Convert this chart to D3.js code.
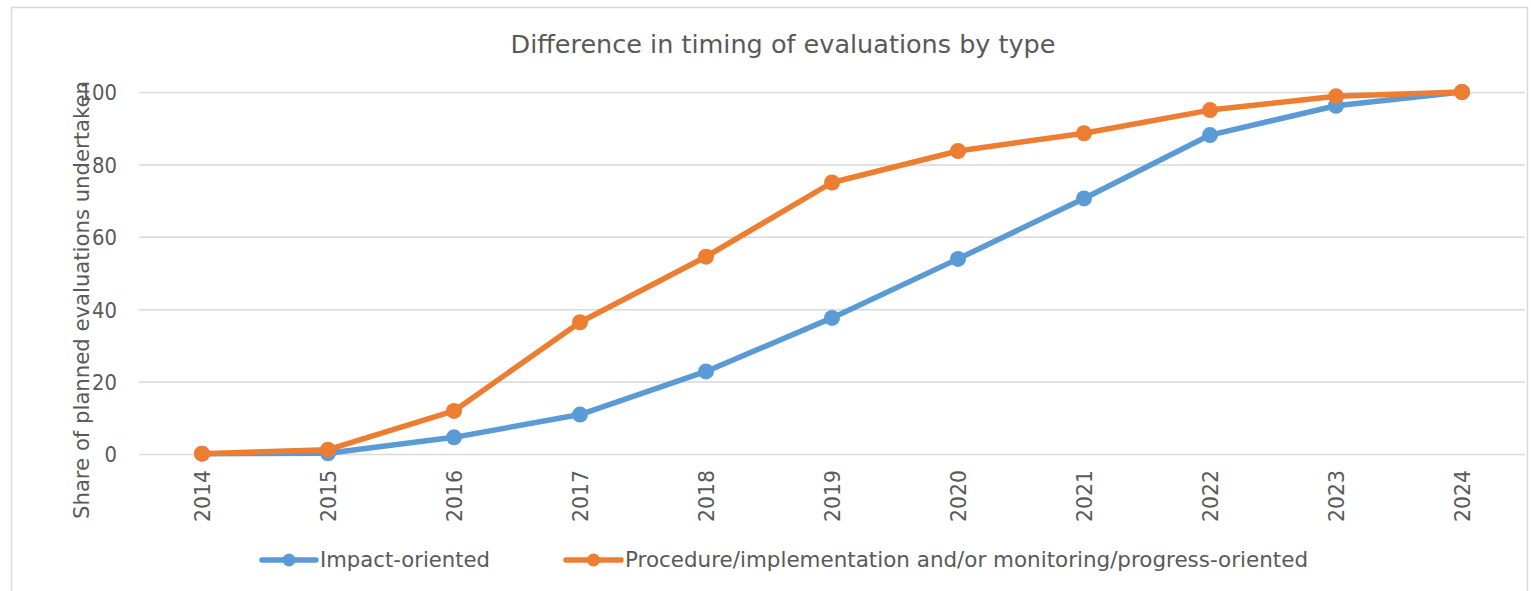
<!DOCTYPE html>
<html>
<head>
<meta charset="utf-8">
<script src="https://cdn.jsdelivr.net/npm/d3@7"></script>
<style>
  html, body { margin: 0; padding: 0; background: #fff; }
  svg { display: block; }
  text { font-family: "DejaVu Sans", Verdana, sans-serif; fill: #595959; }
</style>
</head>
<body>
<svg id="chart" width="1531" height="591"></svg>
<script>
const years = ["2014","2015","2016","2017","2018","2019","2020","2021","2022","2023","2024"];
const impactOriented = [0.1, 0.2, 4.6, 10.9, 22.8, 37.6, 53.9, 70.6, 88.1, 96.2, 100];
const procedureOriented = [0.1, 1.2, 11.9, 36.4, 54.5, 75.0, 83.7, 88.6, 95.0, 98.8, 100];
const yTicks = [0, 20, 40, 60, 80, 100];
const seriesNames = ["Impact-oriented", "Procedure/implementation and/or monitoring/progress-oriented"];
const seriesColors = ["#5b9bd5", "#ed7d31"];
const titleText = "Difference in timing of evaluations by type";
const yTitle = "Share of planned evaluations undertaken";

const svg = d3.select("#chart");

// outer chart border
svg.append("rect").attr("x", 11.5).attr("y", 7.5).attr("width", 1516).attr("height", 600)
  .attr("fill", "#fff").attr("stroke", "#d9d9d9").attr("stroke-width", 1.5);

const plot = {left: 139, right: 1525, top: 92, bottom: 454};

const x = d3.scalePoint().domain(years).range([plot.left + 63, plot.right - 63]);
const y = d3.scaleLinear().domain([0, 100]).range([plot.bottom, plot.top]);

// gridlines + y tick labels
const yAxis = d3.axisLeft(y).tickValues(yTicks).tickSize(-(plot.right - plot.left)).tickPadding(22);
const gY = svg.append("g").attr("transform", `translate(${plot.left},0)`).call(yAxis);
gY.select(".domain").remove();
gY.selectAll(".tick line").attr("stroke", "#d9d9d9").attr("stroke-width", 1.5);
gY.selectAll(".tick text").attr("font-size", 22).attr("fill", "#595959")
  .style("font-family", "'DejaVu Sans', Verdana, sans-serif")
  .attr("dy", "0.36em")
  .each(function(d){ d3.select(this).attr("textLength", String(d).length * 12.5).attr("lengthAdjust", "spacingAndGlyphs"); });

// x axis
const xAxis = d3.axisBottom(x).tickSize(0).tickPadding(0);
const gX = svg.append("g").attr("transform", `translate(0,${plot.bottom})`).call(xAxis);
gX.select(".domain").remove();
gX.selectAll(".tick text")
  .attr("font-size", 22).attr("fill", "#595959")
  .style("font-family", "'DejaVu Sans', Verdana, sans-serif")
  .attr("text-anchor", "end")
  .attr("transform", "rotate(-90)")
  .attr("x", -16).attr("y", 0).attr("dy", "0.36em")
  .attr("textLength", 52).attr("lengthAdjust", "spacingAndGlyphs");

// title
svg.append("text").attr("x", 783).attr("y", 52.5).attr("text-anchor", "middle")
  .attr("font-size", 24).attr("textLength", 545).attr("lengthAdjust", "spacingAndGlyphs")
  .text(titleText);

// y axis title
svg.append("text").attr("transform", "translate(89,300) rotate(-90)").attr("text-anchor", "middle")
  .attr("font-size", 21).attr("textLength", 438).attr("lengthAdjust", "spacingAndGlyphs")
  .text(yTitle);

// lines and markers
const seriesData = [impactOriented, procedureOriented];
const line = d3.line().x((d, i) => x(years[i])).y(d => y(d));
seriesData.forEach((vals, si) => {
  svg.append("path").datum(vals).attr("d", line)
    .attr("fill", "none").attr("stroke", seriesColors[si]).attr("stroke-width", 5.5)
    .attr("stroke-linejoin", "round").attr("stroke-linecap", "round");
  svg.append("g").selectAll("circle").data(vals).join("circle")
    .attr("cx", (d, i) => x(years[i])).attr("cy", d => y(d)).attr("r", 8)
    .attr("fill", seriesColors[si]);
});

// legend
const legendItems = [
  {x0: 262, x1: 316, tx: 320, tl: 170},
  {x0: 566, x1: 621, tx: 625, tl: 683}
];
legendItems.forEach((li, i) => {
  const g = svg.append("g");
  g.append("line").attr("x1", li.x0).attr("x2", li.x1).attr("y1", 560).attr("y2", 560)
    .attr("stroke", seriesColors[i]).attr("stroke-width", 5.5).attr("stroke-linecap", "round");
  g.append("circle").attr("cx", (li.x0 + li.x1) / 2).attr("cy", 560).attr("r", 6.5).attr("fill", seriesColors[i]);
  g.append("text").attr("x", li.tx).attr("y", 567).attr("font-size", 21.5)
    .attr("textLength", li.tl).attr("lengthAdjust", "spacingAndGlyphs").text(seriesNames[i]);
});
</script>
</body>
</html>
